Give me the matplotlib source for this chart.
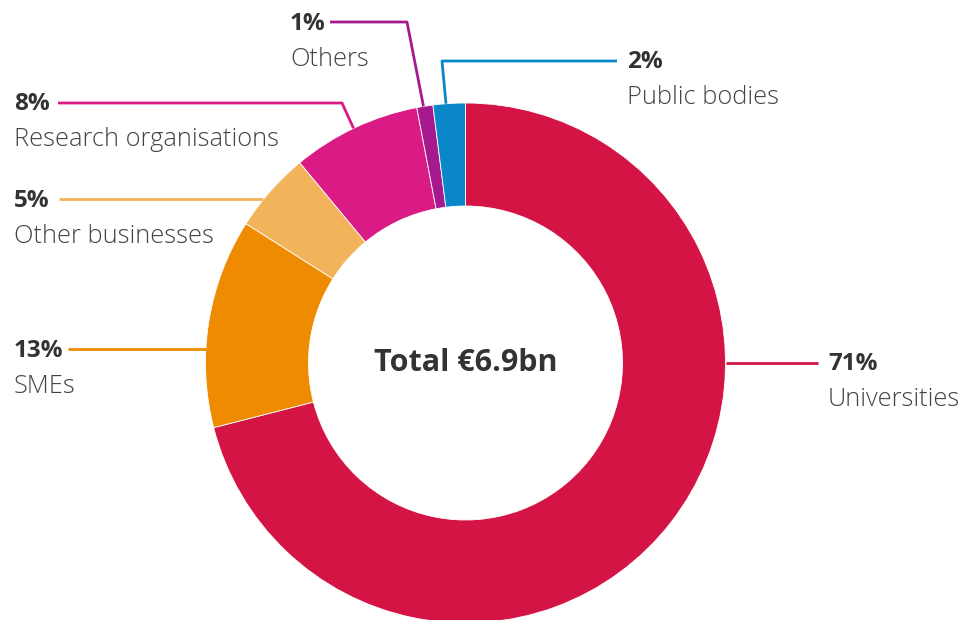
import numpy as np
import matplotlib.pyplot as plt

plt.rcParams['font.family'] = ['Open Sans', 'DejaVu Sans']

# Dane
categories = ['Universities', 'SMEs', 'Other businesses', 'Research organisations', 'Others', 'Public bodies']
shares = [71, 13, 5, 8, 1, 2]
colors = ['#D31445', '#EE8B00', '#F3B35B', '#DA1A85', '#A71A8F', '#0A87C9']
total_label = 'Total €6.9bn'

W, H = 976, 620
CX, CY = 465.5, 363       # srodek w pikselach (y w dol)
R_OUT, R_IN = 260, 157

# uklad etykiet: (x tekstu, y tekstu, koniec linii przy tekscie, lokiec x, kat na pierscieniu)
layout = {
    'Universities': (828, None, 818, None, 90),
    'SMEs': (14, None, 68, None, 273),
    'Other businesses': (14, None, 59, None, 309),
    'Research organisations': (14, 103, 58, 342, 334.5),
    'Others': (290, 22, 330, 407, 350.7),
    'Public bodies': (627, 61, 617, 442, 355.7),
}


def py(y):
    return H - y


def ring_point(angle):
    a = np.deg2rad(angle)
    return CX + R_OUT * np.sin(a), CY - R_OUT * np.cos(a)


fig = plt.figure(figsize=(W / 100, H / 100), dpi=100)
ax = fig.add_axes([0, 0, 1, 1])
ax.pie(shares, colors=colors, startangle=90, counterclock=False,
       center=(CX, py(CY)), radius=R_OUT, frame=True,
       wedgeprops=dict(width=R_OUT - R_IN, edgecolor='white', linewidth=0.6))
ax.set_xlim(0, W)
ax.set_ylim(0, H)
ax.set_aspect('equal')
ax.axis('off')

for cat, share, col in zip(categories, shares, colors):
    tx, ty, lx, ex, ang = layout[cat]
    rx, ry = ring_point(ang)
    if ty is None:
        ty = ry
        xs, ys = [lx, rx], [ty, ty]
    else:
        xs, ys = [lx, ex, rx], [ty, ty, ry]
    ax.plot(xs, [py(v) for v in ys], color=col, lw=2, solid_capstyle='butt')
    ax.text(tx, py(ty + 1.5), f'{share}%', fontsize=17.5, fontweight='bold',
            color='#333333', ha='left', va='center')
    ax.text(tx, py(ty + 37), cat, fontsize=18.3, fontweight='light',
            color='#444444', ha='left', va='center')

ax.text(CX, py(CY), total_label, fontsize=22, fontweight='bold',
        color='#333333', ha='center', va='center')

fig.savefig('out.png', dpi=100)
